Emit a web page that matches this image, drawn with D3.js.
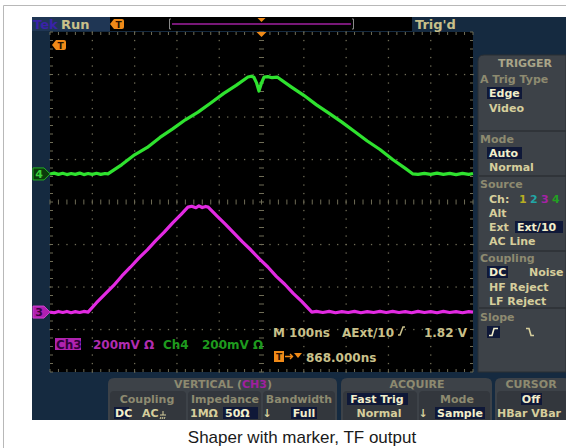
<!DOCTYPE html>
<html><head><meta charset="utf-8">
<script src="https://cdn.jsdelivr.net/npm/d3@7"></script>
<style>body{margin:0;background:#fff}svg{display:block}text{font-family:"DejaVu Sans",sans-serif}</style>
</head><body>
<script>
// ---- data ----
const timeDomainNs = [0, 1000];          // 10 div x 100 ns
const divDomain = [-4, 4];               // 8 vertical divisions
const mvPerDiv = 200;
const ch4OffsetDiv = 0.66;
const ch3OffsetDiv = -2.59;
const ch4Trace = [[0,0],[10,4],[20,-2],[30,3],[40,-3],[50,2],[60,-2],[70,4],[80,-3],[90,2],[100,-2],[110,3],[120,-2],[130,2],[137,0],
  [170,44],[200,90],[230,125],[260,172],[290,212],[320,255],[350,291],[380,334],[410,378],[440,417],[468,456],
  [476,460],[482,455],[488,430],[494,390],[500,428],[506,456],[515,458],[525,453],[537,456],
  [570,410],[600,370],[630,325],[660,285],[690,244],[720,200],[750,155],[780,115],[810,68],[840,26],[858,0],
  [870,-2],[885,3],[900,-2],[915,4],[930,-2],[945,3],[960,-3],[975,3],[990,-2],[1000,2]];
const ch3Trace = [[0,0],[10,-3],[20,3],[30,-2],[40,3],[50,-3],[60,2],[70,-2],[80,3],[90,0],
  [110,44],[130,84],[150,124],[170,170],[190,211],[210,254],[230,293],[250,336],[270,376],[290,420],[310,460],[326,494],
  [335,498],[345,491],[352,500],[360,492],[368,497],[374,494],
  [395,452],[415,413],[435,372],[455,330],[475,292],[495,250],[515,212],[535,168],[555,131],[575,88],[595,50],[619,0],
  [630,3],[645,-2],[660,3],[675,-3],[690,2],[705,-2],[720,3],[735,-3],[750,2],[765,-2],[780,3],[795,-2],[810,3],[825,-2],
  [840,2],[855,-3],[870,3],[885,-2],[900,2],[915,-3],[930,3],[945,-2],[960,2],[975,-3],[990,2],[1000,0]];
const triggerTimeNs = 500;
const caption = "Shaper with marker, TF output";

// ---- drawing ----
const W = 566, H = 448;
const svg = d3.select("body").append("svg").attr("width", W).attr("height", H);
const NAVY = "#152a40", PANEL = "#3d4248", SUB = "#33373d", HEAD = "#a9a589", LBL = "#8d8a70", ITEM = "#d6ce9c", HIL = "#0f1838", HILT = "#f2eecb";
const TAN = "#c9c08a", ORANGE = "#f08a18";

svg.append("rect").attr("width", W).attr("height", H).attr("fill", "#fff");
svg.append("path").attr("d", "M3.5,448 V5.5 H566").attr("fill", "none").attr("stroke", "#b8b8b8");

// scope screen
svg.append("rect").attr("x", 32).attr("y", 17).attr("width", W - 32).attr("height", 403).attr("fill", NAVY);

const x = d3.scaleLinear().domain(timeDomainNs).range([50, 473]);
const y = d3.scaleLinear().domain(divDomain).range([372, 32]);

// top bar
svg.append("rect").attr("x", 32).attr("y", 17).attr("width", 78).attr("height", 14).attr("fill", "#1f3654");
svg.append("rect").attr("x", 110).attr("y", 17).attr("width", 302).attr("height", 14).attr("fill", "#000");
svg.append("text").attr("x", 33).attr("y", 28.5).attr("font-size", 13).attr("font-weight", "bold").attr("fill", "#3a22a8").text("Tek");
svg.append("text").attr("x", 61).attr("y", 28.5).attr("font-size", 13).attr("font-weight", "bold").attr("fill", TAN).text("Run");
svg.append("text").attr("x", 415).attr("y", 28.5).attr("font-size", 13).attr("font-weight", "bold").attr("fill", TAN).text("Trig'd");
function tIcon(cx, cy) {
  const g = svg.append("g").attr("transform", `translate(${cx},${cy})`);
  g.append("path").attr("d", "M-7,0 L-3,-5 H5 Q7,-5 7,-3 V3 Q7,5 5,5 H-3 Z").attr("fill", ORANGE);
  g.append("text").attr("x", 1.5).attr("y", 3.5).attr("font-size", 9).attr("font-weight", "bold").attr("text-anchor", "middle").attr("fill", "#2a1200").text("T");
}
tIcon(117, 24);
// record window bracket
const recX = d3.scaleLinear().domain(timeDomainNs).range([172, 351]);
svg.append("path").attr("d", `M${recX(0)-1},19 h-1.5 v10 h1.5 M${recX(1000)+1},19 h1.5 v10 h-1.5`).attr("fill", "none").attr("stroke", "#8a8a8a");
svg.append("line").attr("x1", recX(0)).attr("x2", recX(1000)).attr("y1", 24).attr("y2", 24).attr("stroke", "#a020a0").attr("stroke-width", 1.5);
svg.append("path").attr("d", `M${recX(500)-4},18 h8 l-4,4 Z`).attr("fill", ORANGE);

// graticule
svg.append("rect").attr("x", 50).attr("y", 32).attr("width", 423).attr("height", 340).attr("fill", "#000");
const gcol = "#6f6c56";
const grid = svg.append("g");
const majX = d3.range(0, 1001, 100), majY = d3.range(-4, 4.01, 1);
const minX = d3.range(0, 1000.1, 20), minY = d3.range(-4, 4.01, 0.2);
majX.forEach(t => { if (t === 0 || t === 1000 || t === 500) return;
  minY.forEach(v => grid.append("rect").attr("x", x(t) - 0.6).attr("y", y(v) - 0.6).attr("width", 1.3).attr("height", 1.3).attr("fill", gcol)); });
majY.forEach(v => { if (v === -4 || v === 4 || v === 0) return;
  minX.forEach(t => grid.append("rect").attr("x", x(t) - 0.6).attr("y", y(v) - 0.6).attr("width", 1.3).attr("height", 1.3).attr("fill", gcol)); });
// center axes with ticks
minX.forEach(t => grid.append("line").attr("x1", x(t)).attr("x2", x(t)).attr("y1", y(0) - 2.5).attr("y2", y(0) + 2.5).attr("stroke", gcol));
minY.forEach(v => grid.append("line").attr("x1", x(500) - 2.5).attr("x2", x(500) + 2.5).attr("y1", y(v)).attr("y2", y(v)).attr("stroke", gcol));
// edge ticks
minX.forEach(t => { grid.append("line").attr("x1", x(t)).attr("x2", x(t)).attr("y1", 32).attr("y2", 35).attr("stroke", gcol);
  grid.append("line").attr("x1", x(t)).attr("x2", x(t)).attr("y1", 369).attr("y2", 372).attr("stroke", gcol); });
minY.forEach(v => { grid.append("line").attr("x1", 50).attr("x2", 53).attr("y1", y(v)).attr("y2", y(v)).attr("stroke", gcol);
  grid.append("line").attr("x1", 470).attr("x2", 473).attr("y1", y(v)).attr("y2", y(v)).attr("stroke", gcol); });

// traces
const line = off => d3.line().x(d => x(d[0])).y(d => y(off + d[1] / mvPerDiv));
svg.append("path").datum(ch4Trace).attr("d", line(ch4OffsetDiv)).attr("fill", "none").attr("stroke", "#2fe22f").attr("stroke-width", 3.2).attr("stroke-linejoin", "round");
svg.append("path").datum(ch3Trace).attr("d", line(ch3OffsetDiv)).attr("fill", "none").attr("stroke", "#e22ae2").attr("stroke-width", 3.2).attr("stroke-linejoin", "round");

// trigger position marker & level icon
svg.append("path").attr("d", `M${x(triggerTimeNs)-5},32 h10 l-5,5 Z`).attr("fill", ORANGE);
tIcon(59, 45);

// ground markers
function gnd(v, label, fill, stroke, tcol) {
  const yy = y(v);
  svg.append("path").attr("d", `M33,${yy-6} H44 L50,${yy} L44,${yy+6} H33 Z`).attr("fill", fill).attr("stroke", stroke);
  svg.append("text").attr("x", 39).attr("y", yy + 4).attr("font-size", 11).attr("font-weight", "bold").attr("text-anchor", "middle").attr("fill", tcol).text(label);
}
gnd(ch4OffsetDiv, "4", "#0b3a0b", "#22b022", "#3ad03a");
gnd(ch3OffsetDiv, "3", "#b020b0", "#d040d0", "#3a0040");

// readouts
svg.append("rect").attr("x", 55).attr("y", 338).attr("width", 26).attr("height", 12).attr("fill", "#b023b0");
svg.append("text").attr("x", 56).attr("y", 348.5).attr("font-size", 12).attr("font-weight", "bold").attr("fill", "#30003a").text("Ch3");
svg.append("text").attr("x", 93).attr("y", 348.5).attr("font-size", 12).attr("font-weight", "bold").attr("fill", "#b02cb0").text("200mV Ω");
svg.append("text").attr("x", 163).attr("y", 348.5).attr("font-size", 12).attr("font-weight", "bold").attr("fill", "#1e9a1e").text("Ch4");
svg.append("text").attr("x", 202).attr("y", 348.5).attr("font-size", 12).attr("font-weight", "bold").attr("fill", "#1e9a1e").text("200mV Ω");
svg.append("text").attr("x", 273).attr("y", 336.5).attr("font-size", 12).attr("font-weight", "bold").attr("fill", TAN).text("M 100ns");
svg.append("text").attr("x", 342).attr("y", 336.5).attr("font-size", 12).attr("font-weight", "bold").attr("fill", TAN).text("AExt/10");
svg.append("path").attr("d", "M398,335 h2 l3,-8 h2").attr("fill", "none").attr("stroke", TAN).attr("stroke-width", 1.6);
svg.append("text").attr("x", 467).attr("y", 336.5).attr("font-size", 12).attr("font-weight", "bold").attr("text-anchor", "end").attr("fill", TAN).text("1.82 V");
svg.append("rect").attr("x", 274).attr("y", 351).attr("width", 10).attr("height", 11).attr("fill", ORANGE);
svg.append("text").attr("x", 279).attr("y", 360).attr("font-size", 9).attr("font-weight", "bold").attr("text-anchor", "middle").attr("fill", "#2a1200").text("T");
svg.append("path").attr("d", "M285,356.5 h7 M290,354 l2.5,2.5 l-2.5,2.5").attr("fill", "none").attr("stroke", ORANGE).attr("stroke-width", 1.4);
svg.append("path").attr("d", "M294,353 h8 l-4,5 Z").attr("fill", ORANGE);
svg.append("text").attr("x", 306).attr("y", 361.5).attr("font-size", 12).attr("font-weight", "bold").attr("fill", TAN).text("868.000ns");

// right trigger panel
svg.append("path").attr("d", "M478,372 V61 Q478,55 484,55 H566 V372 Z").attr("fill", PANEL).attr("stroke", "#2a2e33");
svg.append("text").attr("x", 525).attr("y", 67).attr("font-size", 11).attr("font-weight", "bold").attr("text-anchor", "middle").attr("fill", HEAD).text("TRIGGER");
[131, 176, 251, 308].forEach(yy => svg.append("line").attr("x1", 479).attr("x2", 566).attr("y1", yy).attr("y2", yy).attr("stroke", "#2c3035").attr("stroke-width", 1.5));
const T = (tx, ty, s, col, anchor) => svg.append("text").attr("x", tx).attr("y", ty).attr("font-size", 11).attr("font-weight", "bold").attr("text-anchor", anchor || "start").attr("fill", col).text(s);
const HL = (x0, y0, w, h) => svg.append("rect").attr("x", x0).attr("y", y0).attr("width", w).attr("height", h).attr("fill", HIL);
T(480, 83, "A Trig Type", LBL);
HL(487, 87, 35, 12); T(489, 97, "Edge", HILT);
T(489, 112, "Video", ITEM);
T(480, 143, "Mode", LBL);
HL(487, 147, 35, 12); T(489, 157, "Auto", HILT);
T(489, 171, "Normal", ITEM);
T(480, 188, "Source", LBL);
T(489, 203, "Ch:", ITEM); T(519, 203, "1", "#b8ae22"); T(530, 203, "2", "#22a6a6"); T(541, 203, "3", "#a422a4"); T(552, 203, "4", "#22a022");
T(489, 217, "Alt", ITEM);
T(489, 231, "Ext", ITEM); HL(515, 221, 48, 12); T(517, 231, "Ext/10", HILT);
T(489, 245, "AC Line", ITEM);
T(480, 262, "Coupling", LBL);
HL(487, 266, 21, 12); T(489, 276, "DC", HILT); T(529, 276, "Noise", ITEM);
T(489, 291, "HF Reject", ITEM);
T(489, 305, "LF Reject", ITEM);
T(480, 321, "Slope", LBL);
HL(487, 326, 13, 12);
svg.append("path").attr("d", "M489,335.5 h3 l2,-7 h4").attr("fill", "none").attr("stroke", HILT).attr("stroke-width", 1.6);
svg.append("path").attr("d", "M526,328.5 h3 l2,7 h3").attr("fill", "none").attr("stroke", ITEM).attr("stroke-width", 1.6);

// bottom menus
function box(x0, x1) { svg.append("path").attr("d", `M${x0},420 V384 Q${x0},378 ${x0+6},378 H${x1-6} Q${x1},378 ${x1},384 V420 Z`).attr("fill", PANEL); }
function sub(x0, x1) { svg.append("path").attr("d", `M${x0},420 V395 Q${x0},391 ${x0+4},391 H${x1-4} Q${x1},391 ${x1},395 V420 Z`).attr("fill", SUB); }
box(108, 337); box(341, 492); box(495, 570);
sub(110, 186); sub(188, 261); sub(263, 335); sub(343, 417); sub(419, 490); sub(497, 570);
const vt = svg.append("text").attr("x", 223).attr("y", 388).attr("font-size", 11).attr("font-weight", "bold").attr("text-anchor", "middle").attr("fill", LBL);
vt.append("tspan").text("VERTICAL ("); vt.append("tspan").attr("fill", "#a020a0").text("CH3"); vt.append("tspan").text(")");
T(417, 388, "ACQUIRE", LBL, "middle");
T(531, 388, "CURSOR", LBL, "middle");
T(147, 403, "Coupling", LBL, "middle");
T(225, 403, "Impedance", LBL, "middle");
T(299, 403, "Bandwidth", LBL, "middle");
HL(114, 407, 15, 12); T(115, 417, "DC", HILT);
T(142, 417, "AC", ITEM);
svg.append("path").attr("d", "M163,411 v4 M160,415 h6 M161,417 l-1,2 M163,417 l-1,2 M165,417 l-1,2").attr("stroke", ITEM).attr("stroke-width", 1);
T(190, 417, "1MΩ", ITEM);
HL(223, 407, 35, 12); T(225, 417, "50Ω", HILT);
T(267, 417, "↓", ITEM, "middle");
HL(291, 407, 26, 12); T(304, 417, "Full", HILT, "middle");
HL(347, 393, 61, 12); T(377, 403, "Fast Trig", HILT, "middle");
T(379, 417, "Normal", ITEM, "middle");
T(457, 403, "Mode", LBL, "middle");
T(423, 417, "↓", ITEM, "middle");
HL(435, 407, 50, 12); T(460, 417, "Sample", HILT, "middle");
HL(521, 393, 21, 12); T(531, 403, "Off", HILT, "middle");
T(497, 417, "HBar VBar", ITEM);

// caption
svg.append("text").attr("x", 302).attr("y", 443).attr("style", "font-family:'Liberation Sans',Arial,sans-serif").attr("font-size", 17).attr("text-anchor", "middle").attr("fill", "#1a1a1a").text(caption);
</script>
</body></html>
